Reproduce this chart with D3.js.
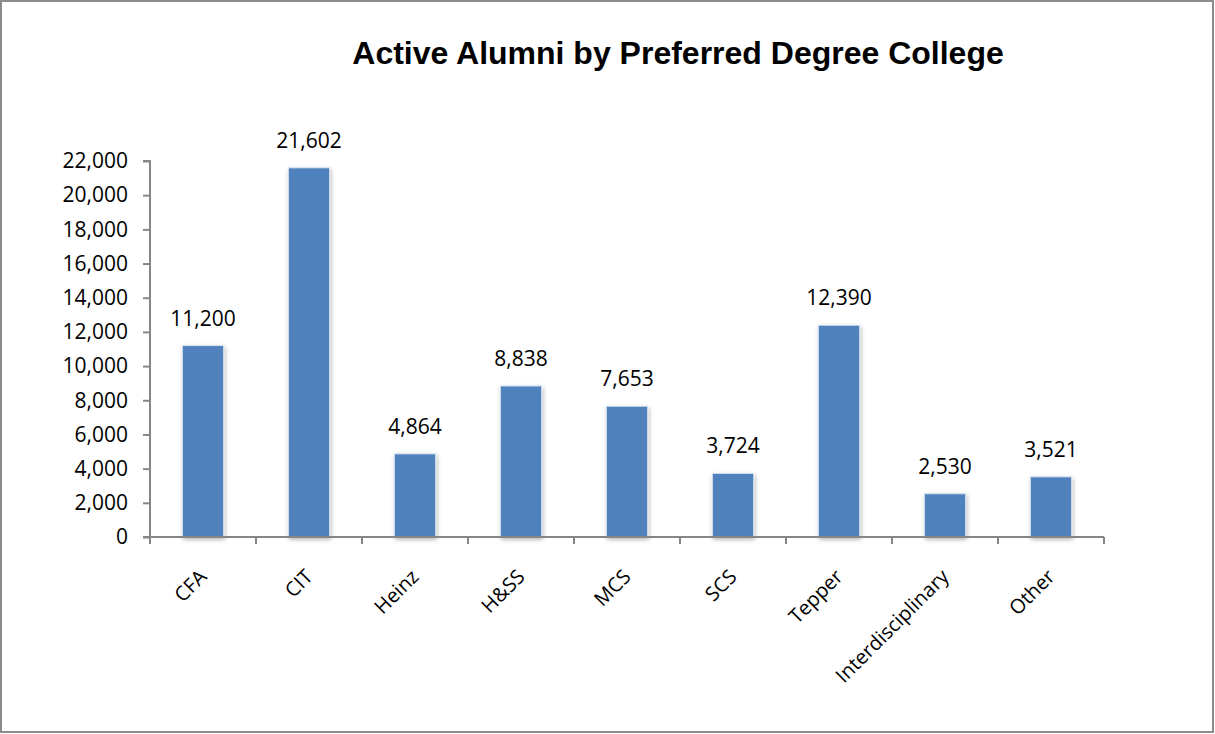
<!DOCTYPE html>
<html>
<head>
<meta charset="utf-8">
<script src="https://cdn.jsdelivr.net/npm/d3@7"></script>
<style>
  body { margin: 0; background: #fff; }
</style>
</head>
<body>
<div id="chart-area"></div>
<script>
const categories = ["CFA", "CIT", "Heinz", "H&SS", "MCS", "SCS", "Tepper", "Interdisciplinary", "Other"];
const alumni = [11200, 21602, 4864, 8838, 7653, 3724, 12390, 2530, 3521];
const yTicks = [0, 2000, 4000, 6000, 8000, 10000, 12000, 14000, 16000, 18000, 20000, 22000];
const title = "Active Alumni by Preferred Degree College";

const W = 1215, H = 734;
const PLOT = { LEFT: 150, RIGHT: 1104, TOP: 161, BOTTOM: 537 };
const AXIS_COLOR = "#868686";
const BAR_COLOR = "#4F81BD";
const LABEL_FONT = "'Open Sans', 'Noto Sans', sans-serif";

const svg = d3.select("#chart-area").append("svg")
  .attr("width", W)
  .attr("height", H);

// soft shadow behind bars
const defs = svg.append("defs");
const shadow = defs.append("filter")
  .attr("id", "barShadow")
  .attr("x", "-30%").attr("y", "-10%")
  .attr("width", "160%").attr("height", "130%");
shadow.append("feDropShadow")
  .attr("dx", 1).attr("dy", 2)
  .attr("stdDeviation", 2)
  .attr("flood-color", "#000")
  .attr("flood-opacity", 0.3);

// chart frame
svg.append("rect")
  .attr("x", 1).attr("y", 1)
  .attr("width", W - 3).attr("height", H - 3)
  .attr("fill", "#fff")
  .attr("stroke", "#8c8c8c")
  .attr("stroke-width", 2);

// title
svg.append("text")
  .attr("x", 678)
  .attr("y", 64)
  .attr("text-anchor", "middle")
  .attr("font-family", "'Liberation Sans', Arial, sans-serif")
  .attr("font-weight", "bold")
  .attr("font-size", "32px")
  .text(title);

// scales
const x = d3.scaleBand()
  .domain(categories)
  .range([PLOT.LEFT, PLOT.RIGHT])
  .padding(0);

const y = d3.scaleLinear()
  .domain([0, 22000])
  .range([PLOT.BOTTOM, PLOT.TOP]);

const barW = x.bandwidth() * 0.39;

// bars
svg.append("g").selectAll("rect")
  .data(alumni)
  .enter().append("rect")
    .attr("x", (d, i) => x(categories[i]) + (x.bandwidth() - barW) / 2)
    .attr("y", d => y(d))
    .attr("width", barW)
    .attr("height", d => y(0) - y(d))
    .attr("fill", BAR_COLOR)
    .attr("stroke", "#dbe4f0")
    .attr("stroke-width", 1)
    .attr("filter", "url(#barShadow)");

// value labels
svg.append("g").selectAll("text")
  .data(alumni)
  .enter().append("text")
    .attr("x", (d, i) => x(categories[i]) + x.bandwidth() / 2)
    .attr("y", d => y(d) - 20)
    .attr("text-anchor", "middle")
    .attr("font-family", LABEL_FONT)
    .attr("font-size", "21px")
    .attr("fill", "#000")
    .text(d => d3.format(",")(d));

// Y axis
const yAxis = svg.append("g")
  .attr("transform", `translate(${PLOT.LEFT}, 0)`)
  .call(d3.axisLeft(y)
    .tickValues(yTicks)
    .tickSize(7)
    .tickPadding(15)
    .tickFormat(d3.format(",")));
yAxis.select(".domain")
  .attr("d", `M-7,${PLOT.TOP}H0V${PLOT.BOTTOM}`)
  .attr("stroke", AXIS_COLOR)
  .attr("stroke-width", 2);
yAxis.selectAll(".tick line").attr("stroke", AXIS_COLOR).attr("stroke-width", 2);
yAxis.selectAll(".tick text")
  .attr("font-family", LABEL_FONT)
  .attr("font-size", "21px")
  .attr("fill", "#000");

// X axis: ticks at category boundaries
const xAxis = svg.append("g")
  .attr("transform", `translate(0, ${PLOT.BOTTOM})`);
xAxis.append("line")
  .attr("x1", PLOT.LEFT - 7).attr("x2", PLOT.RIGHT)
  .attr("stroke", AXIS_COLOR)
  .attr("stroke-width", 2);
const bounds = categories.map(c => x(c)).concat([PLOT.RIGHT]);
xAxis.selectAll("line.tick")
  .data(bounds)
  .enter().append("line")
    .attr("class", "tick")
    .attr("x1", d => d).attr("x2", d => d)
    .attr("y1", 0).attr("y2", 7)
    .attr("stroke", AXIS_COLOR)
    .attr("stroke-width", 2);
xAxis.selectAll("text")
  .data(categories)
  .enter().append("text")
    .attr("transform", d => `translate(${x(d) + x.bandwidth() / 2 + 5}, 41) rotate(-45)`)
    .attr("text-anchor", "end")
    .attr("font-family", LABEL_FONT)
    .attr("font-size", "20px")
    .attr("fill", "#000")
    .text(d => d);
</script>
</body>
</html>
